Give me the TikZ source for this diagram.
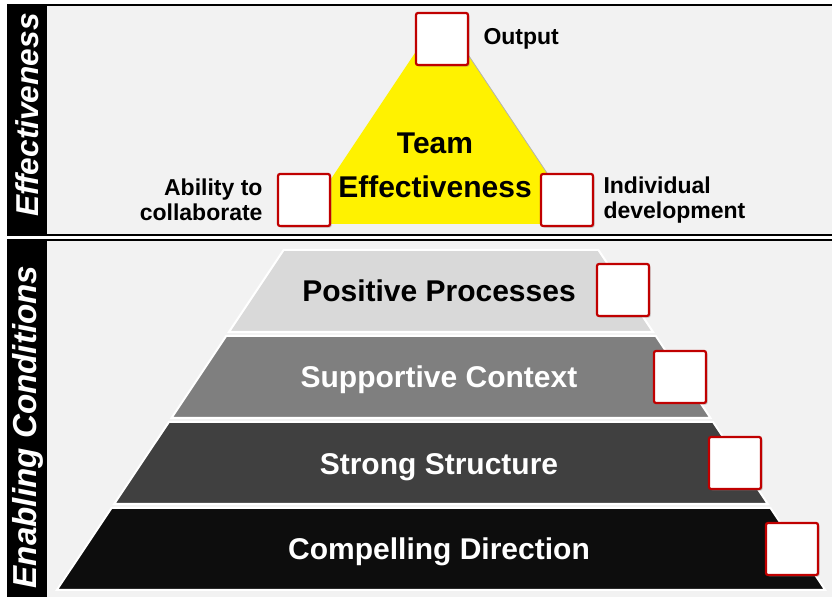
\documentclass[tikz,border=0pt]{standalone}
\usepackage{fontspec}
\setmainfont{Liberation Sans}
\usetikzlibrary{positioning,shadows}
\definecolor{panel}{HTML}{F2F2F2}
\definecolor{boxred}{HTML}{C00000}
\definecolor{bandA}{HTML}{D9D9D9}
\definecolor{bandB}{HTML}{7F7F7F}
\definecolor{bandC}{HTML}{404040}
\definecolor{bandD}{HTML}{0D0D0D}

\begin{document}
\begin{tikzpicture}[x=0.5pt,y=0.5pt,
  checkbox/.style={draw=boxred,line width=1.1pt,fill=white,rounded corners=1pt,
    minimum width=26pt,minimum height=26pt,inner sep=0pt,
    drop shadow={shadow xshift=0.8pt,shadow yshift=-0.8pt,opacity=0.4}},
  side label/.style={font=\bfseries\fontsize{11.5}{12.5}\selectfont,inner sep=0pt},
  band label/.style={font=\bfseries\fontsize{15}{18}\selectfont,anchor=base},
  bar label/.style={font=\bfseries\itshape,text=white,rotate=90}]
\useasboundingbox (0,0) rectangle (832,597);
\clip (0,0) rectangle (832,597);

\draw[fill=panel,line width=1.2pt] (8,362) rectangle (845,592);
\draw[fill=panel,line width=1.2pt] (8,-10) rectangle (845,357);
\fill[black] (8,362) rectangle (47,592);
\fill[black] (8,-10) rectangle (47,357);
\node[bar label,font=\bfseries\itshape\fontsize{15.8}{18}\selectfont] (eff) at (27.5,482) {Effectiveness};
\node[bar label,font=\bfseries\itshape\fontsize{16.6}{18}\selectfont] (ena) at (27.5,170) {Enabling Conditions};

\fill[yellow] (441,583) -- (581,373) -- (301,373) -- cycle;
\draw[gray!60] (441,583) -- (581,373);
\node[align=center,font=\bfseries\fontsize{15}{22}\selectfont] (team) at (435,432) {Team\\Effectiveness};

\filldraw[fill=bandA,draw=white,line width=1pt] (283.6,347) -- (598.4,347) -- (653.1,265) -- (228.9,265) -- cycle;
\filldraw[fill=bandB,draw=white,line width=1pt] (226.2,261) -- (655.8,261) -- (710.5,179) -- (171.5,179) -- cycle;
\filldraw[fill=bandC,draw=white,line width=1pt] (168.9,175) -- (713.1,175) -- (767.8,93) -- (114.2,93) -- cycle;
\filldraw[fill=bandD,draw=white,line width=1pt] (111.5,89) -- (770.5,89) -- (825.2,7) -- (56.8,7) -- cycle;
\node[band label] (pp) at (439,295) {Positive Processes};
\node[band label,text=white] (sc) at (439,209) {Supportive Context};
\node[band label,text=white] (ss) at (439,122) {Strong Structure};
\node[band label,text=white] (cd) at (439,37) {Compelling Direction};

\node[checkbox] (obox) at (442,558) {};
\node[checkbox] (lbox) at (304,397) {};
\node[checkbox] (rbox) at (567,397) {};
\node[checkbox] (pbox) at (623,307) {};
\node[checkbox] (cbox) at (680,220) {};
\node[checkbox] (sbox) at (735,134) {};
\node[checkbox] (dbox) at (792,48) {};

\node[side label,right=7pt of obox] (olab) {Output};
\node[side label,left=7pt of lbox,align=right] (llab) {Ability to\\collaborate};
\node[side label,right=4.5pt of rbox,align=left] (rlab) {Individual\\development};
\end{tikzpicture}
\end{document}
